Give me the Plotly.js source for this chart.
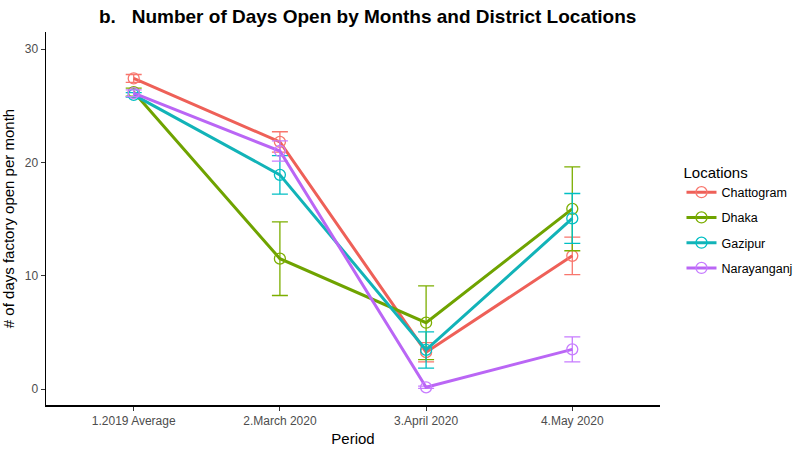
<!DOCTYPE html>
<html><head><meta charset="utf-8">
<script src="https://cdn.plot.ly/plotly-3.0.1.min.js"></script>
<style>body{margin:0;background:#fff}#plot{width:800px;height:450px}</style>
</head><body><div id="plot"></div>
<script>
const periods = ["1.2019 Average", "2.March 2020", "3.April 2020", "4.May 2020"];
const locations = ["Chattogram", "Dhaka", "Gazipur", "Narayanganj"];
const chattogram = [27.4, 21.8, 3.25, 11.75];
const chattogramErr = [0.35, 0.9, 0.85, 1.65];
const dhaka = [26.2, 11.5, 5.85, 15.9];
const dhakaErr = [0.35, 3.25, 3.25, 3.7];
const gazipur = [25.95, 18.9, 3.45, 15.05];
const gazipurErr = [0.2, 1.7, 1.6, 2.2];
const narayanganj = [26.1, 21.0, 0.15, 3.5];
const narayanganjErr = [0.3, 0.9, 0.1, 1.1];
const colors = ["#F8766D", "#7CAE00", "#00BFC4", "#C77CFF"];
const lineColors = ["#EE6058", "#6FA300", "#12B3B8", "#BA66F5"];

const series = [chattogram, dhaka, gazipur, narayanganj];
const errs = [chattogramErr, dhakaErr, gazipurErr, narayanganjErr];

const traces = locations.map((name, i) => ({
  type: "scatter",
  mode: "lines+markers",
  name: name,
  legendgroup: name,
  x: periods,
  y: series[i],
  line: {color: lineColors[i], width: 3},
  marker: {symbol: "circle-open", size: 11, color: colors[i], line: {width: 1.3}},
  error_y: {type: "data", array: errs[i], symmetric: true, color: colors[i], thickness: 1.3, width: 8},
  cliponaxis: false
}));

const layout = {
  width: 800, height: 450,
  margin: {l: 46, r: 140, t: 32, b: 45, autoexpand: false},
  paper_bgcolor: "#fff", plot_bgcolor: "#fff",
  font: {family: "Liberation Sans, Arial, sans-serif", color: "#000"},
  showlegend: true,
  annotations: [{
    text: "<b>b.   Number of Days Open by Months and District Locations</b>",
    xref: "paper", yref: "paper", x: 0.524, y: 1, yshift: 16, xanchor: "center", yanchor: "middle",
    showarrow: false, font: {size: 19, color: "#000"}
  }],
  xaxis: {
    type: "category", range: [-0.6, 3.6],
    showline: true, linecolor: "#000", linewidth: 1.5, showgrid: false, zeroline: false,
    ticks: "outside", ticklen: 4, tickcolor: "#333", tickwidth: 1,
    tickfont: {size: 12, color: "#4d4d4d"},
    title: {text: "Period", font: {size: 15, color: "#000"}, standoff: 6}
  },
  yaxis: {
    range: [-1.41, 31.5], tickvals: [0, 10, 20, 30],
    showline: true, linecolor: "#000", linewidth: 1.5, showgrid: false, zeroline: false,
    ticks: "outside", ticklen: 4, tickcolor: "#333", tickwidth: 1,
    tickfont: {size: 12, color: "#4d4d4d"},
    title: {text: "# of days factory open per month", font: {size: 15, color: "#000"}, standoff: 8}
  },
  legend: {
    x: 1.035, y: 0.662, xanchor: "left", yanchor: "top",
    title: {text: "Locations", font: {size: 15, color: "#000"}},
    font: {size: 12.5, color: "#000"}, traceorder: "grouped", tracegroupgap: 6, itemwidth: 30
  }
};
Plotly.newPlot("plot", traces, layout, {displayModeBar: false, staticPlot: true});
</script></body></html>
